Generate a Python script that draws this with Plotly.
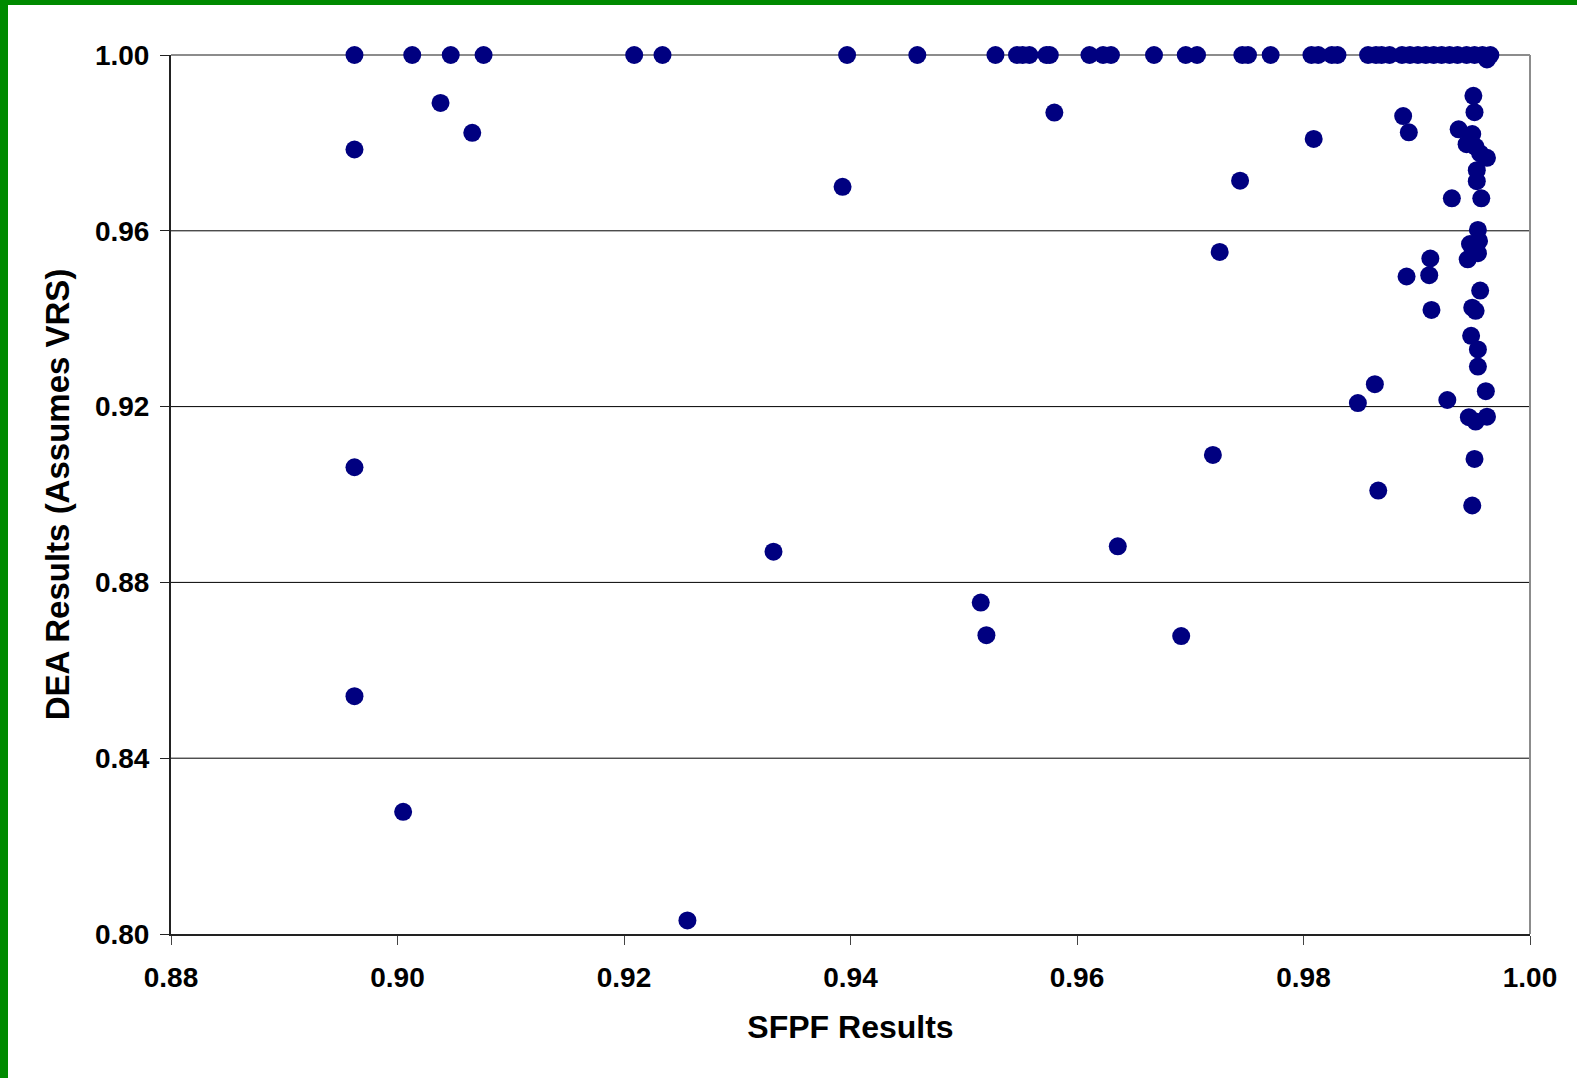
import plotly.graph_objects as go

# ---- data ----
top_row_sfpf = [0.8962, 0.9013, 0.9047, 0.9076, 0.9209, 0.9234, 0.9397, 0.9459, 0.9528, 0.9547,
                0.9552, 0.9558, 0.9573, 0.9576, 0.9611, 0.9623, 0.9630, 0.9668, 0.9696, 0.9706,
                0.9746, 0.9751, 0.9771, 0.9807, 0.9813, 0.9825, 0.9830, 0.9857, 0.9864, 0.9869,
                0.9876, 0.9887, 0.9894, 0.9901, 0.9908, 0.9915, 0.9922, 0.9929, 0.9936, 0.9944,
                0.9951, 0.9958, 0.9965, 0.9962]
top_row_dea = [1.0] * 43 + [0.999]

other_sfpf = [0.8962, 0.9038, 0.9066, 0.8962, 0.8962, 0.9005, 0.9256, 0.9332, 0.9393, 0.9515,
              0.9520, 0.9580, 0.9636, 0.9692, 0.9720, 0.9726, 0.9744, 0.9809, 0.9848, 0.9863,
              0.9866, 0.9888, 0.9893, 0.9891, 0.9912, 0.9911, 0.9913, 0.9927, 0.9931, 0.9937]
other_dea = [0.9785, 0.9891, 0.9823, 0.9062, 0.8541, 0.8278, 0.8031, 0.8870, 0.9700, 0.8754,
             0.8680, 0.9869, 0.8882, 0.8678, 0.9090, 0.9552, 0.9714, 0.9809, 0.9208, 0.9251,
             0.9009, 0.9861, 0.9824, 0.9496, 0.9537, 0.9499, 0.9420, 0.9215, 0.9674, 0.9831]

cluster_sfpf = [0.9950, 0.9951, 0.9949, 0.9944, 0.9952, 0.9956, 0.9962, 0.9953, 0.9953, 0.9957,
                0.9954, 0.9947, 0.9955, 0.9945, 0.9954, 0.9956, 0.9949, 0.9952, 0.9948, 0.9954,
                0.9954, 0.9961, 0.9946, 0.9952, 0.9962, 0.9951, 0.9949]
cluster_dea = [0.9907, 0.9870, 0.9820, 0.9797, 0.9791, 0.9776, 0.9766, 0.9738, 0.9713, 0.9674,
               0.9602, 0.9570, 0.9577, 0.9535, 0.9549, 0.9464, 0.9425, 0.9418, 0.9361, 0.9330,
               0.9291, 0.9235, 0.9176, 0.9166, 0.9177, 0.9081, 0.8975]

x_tick_vals = [0.88, 0.90, 0.92, 0.94, 0.96, 0.98, 1.00]
x_tick_labels = ["0.88", "0.90", "0.92", "0.94", "0.96", "0.98", "1.00"]
y_tick_vals = [0.80, 0.84, 0.88, 0.92, 0.96, 1.00]
y_tick_labels = ["0.80", "0.84", "0.88", "0.92", "0.96", "1.00"]
y_grid_vals = [0.84, 0.88, 0.92, 0.96]

x_title = "SFPF Results"
y_title = "DEA Results (Assumes VRS)"

sfpf = top_row_sfpf + other_sfpf + cluster_sfpf
dea = top_row_dea + other_dea + cluster_dea

# ---- figure ----
W, H = 1577, 1078
L, R, T, B = 171, 47, 55, 144
pw, ph = W - L - R, H - T - B

FONT = "Arial, 'Liberation Sans', Helvetica, sans-serif"

fig = go.Figure()
fig.add_trace(go.Scatter(
    x=sfpf, y=dea, mode="markers",
    marker=dict(size=18, color="#000080", line=dict(width=0)),
    cliponaxis=False, showlegend=False,
))

def px_x(p):
    return (p - L) / pw

def px_y(p):
    return (H - B - p) / ph

shapes = []
for gv in y_grid_vals:
    shapes.append(dict(type="line", xref="paper", yref="y", x0=0, x1=1, y0=gv, y1=gv,
                       line=dict(color="black", width=1), layer="between"))
shapes += [
    # plot-area border (gray) top and right
    dict(type="line", xref="paper", yref="paper", x0=0, x1=1, y0=1, y1=1,
         line=dict(color="#8c8c8c", width=2), layer="between"),
    dict(type="line", xref="paper", yref="paper", x0=1, x1=1, y0=0, y1=1,
         line=dict(color="#8c8c8c", width=2), layer="between"),
    # green slide border strips
    dict(type="rect", xref="paper", yref="paper", x0=px_x(0), x1=px_x(W), y0=px_y(5), y1=px_y(0),
         fillcolor="#008a00", line=dict(width=0), layer="above"),
    dict(type="rect", xref="paper", yref="paper", x0=px_x(0), x1=px_x(8), y0=px_y(H), y1=px_y(0),
         fillcolor="#008a00", line=dict(width=0), layer="above"),
]

fig.update_layout(
    width=W, height=H,
    margin=dict(l=L, r=R, t=T, b=B, pad=0),
    paper_bgcolor="white", plot_bgcolor="white",
    font=dict(family=FONT, color="black"),
    shapes=shapes,
    xaxis=dict(
        range=[0.88, 1.00], tickvals=x_tick_vals, ticktext=x_tick_labels,
        showgrid=False, zeroline=False,
        showline=True, linecolor="#222222", linewidth=2,
        ticks="outside", ticklen=9, tickwidth=1, tickcolor="#444444",
        tickfont=dict(size=28, weight="bold", family=FONT),
        ticklabelstandoff=8,
        title=dict(text=x_title, font=dict(size=32, weight="bold", family=FONT), standoff=24),
    ),
    yaxis=dict(
        range=[0.80, 1.00], tickvals=y_tick_vals, ticktext=y_tick_labels,
        showgrid=False, zeroline=False,
        showline=True, linecolor="#222222", linewidth=2,
        ticks="outside", ticklen=9, tickwidth=1, tickcolor="#222222",
        tickfont=dict(size=28, weight="bold", family=FONT),
        ticklabelstandoff=5,
        title=dict(text=y_title, font=dict(size=33, weight="bold", family=FONT), standoff=15),
    ),
)

fig.write_html("out.html", config={"displayModeBar": False},
               post_script="document.body.style.margin='0';")
